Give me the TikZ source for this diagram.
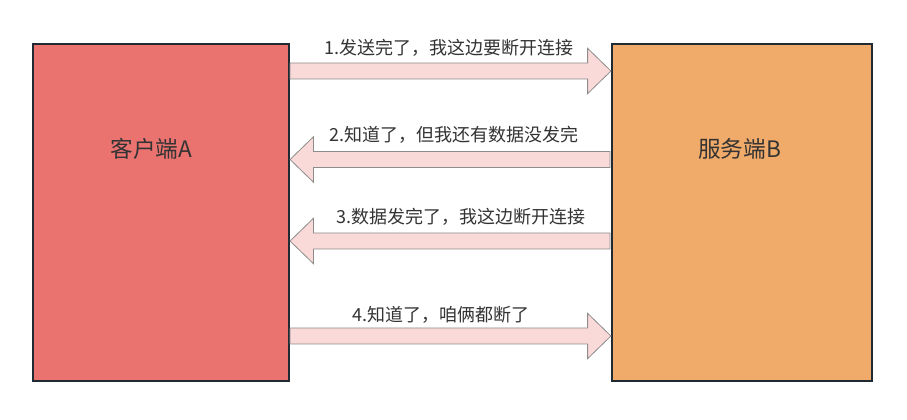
\documentclass[tikz,border=0pt]{standalone}
\usepackage{fontspec}
\setmainfont{Noto Sans CJK SC}
\usetikzlibrary{calc}
\definecolor{leftc}{HTML}{EA7370}
\definecolor{rightc}{HTML}{F0AA6A}
\definecolor{boxline}{HTML}{1F2A33}
\definecolor{arrfill}{HTML}{FADAD8}
\definecolor{arrline}{HTML}{8C8C8C}
\definecolor{txt}{HTML}{333333}
\tikzset{
  party/.style={draw=boxline, line width=1.6pt, minimum height=252.75pt, inner sep=0pt},
  partylabel/.style={text=txt, font=\fontsize{17}{20}\selectfont, inner sep=0pt},
  msglabel/.style={text=txt, font=\fontsize{13.5}{16}\selectfont, inner sep=0pt},
  blockarr/.style={draw=arrline, fill=arrfill, line width=0.6pt, line join=miter},
}
% fat arrow: #1 tail coordinate, #2 tip coordinate, #3 direction (+1 right, -1 left)
\newcommand\fatarrow[3]{%
  \draw[blockarr] let \p1=(#1), \p2=(#2) in
    (\x1,\y2+6pt) -- (\x2-#3*17.5pt,\y2+6pt) -- (\x2-#3*17.5pt,\y2+17pt) -- (\x2,\y2)
    -- (\x2-#3*17.5pt,\y2-17pt) -- (\x2-#3*17.5pt,\y2-6pt) -- (\x1,\y2-6pt) -- cycle;}
\begin{document}
\begin{tikzpicture}[x=0.75pt,y=-0.75pt]
\useasboundingbox[fill=white] (0,0) rectangle (907,420);
\node[party, fill=leftc, minimum width=192pt] (A) at (161,212.5) {};
\node[party, fill=rightc, minimum width=195pt] (B) at (742,212.5) {};
\node[partylabel] (la) at (151.5,148.5) {客户端A};
\node[partylabel] (lb) at (739.5,148.5) {服务端B};
% message 1
\coordinate (t1) at (A.east |- 0,71);
\coordinate (h1) at (B.west |- 0,71);
\fatarrow{t1}{h1}{1}
\node[msglabel] (m1) at (449,48) {1.发送完了，我这边要断开连接};
% message 2
\coordinate (t2) at (610,159.5);
\coordinate (h2) at (A.east |- 0,159.5);
\fatarrow{t2}{h2}{-1}
\node[msglabel] (m2) at (454,135) {2.知道了，但我还有数据没发完};
% message 3
\coordinate (t3) at (610,241);
\coordinate (h3) at (A.east |- 0,241);
\fatarrow{t3}{h3}{-1}
\node[msglabel] (m3) at (461,217) {3.数据发完了，我这边断开连接};
% message 4
\coordinate (t4) at (A.east |- 0,336);
\coordinate (h4) at (B.west |- 0,336);
\fatarrow{t4}{h4}{1}
\node[msglabel] (m4) at (441,315) {4.知道了，咱俩都断了};
\end{tikzpicture}
\end{document}
